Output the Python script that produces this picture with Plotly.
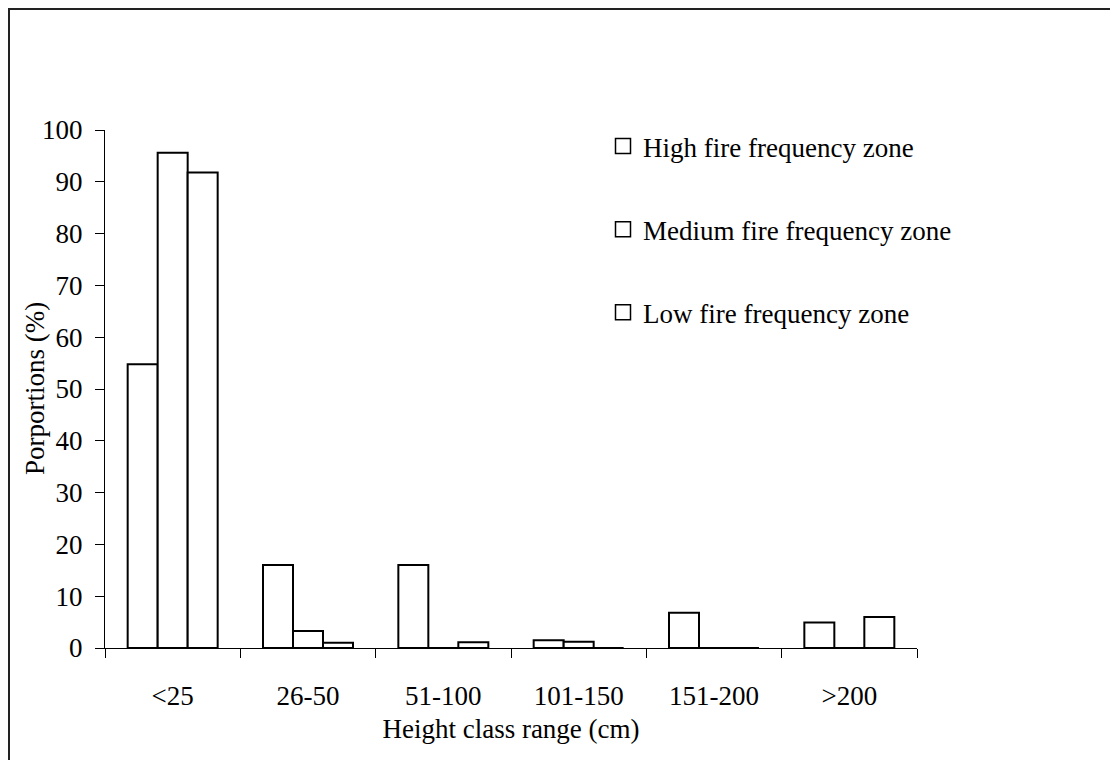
import plotly.graph_objects as go

categories = ["<25", "26-50", "51-100", "101-150", "151-200", ">200"]
high_fire = [54.8, 16.0, 16.0, 1.5, 6.8, 4.9]
medium_fire = [95.6, 3.3, 0.0, 1.2, 0.0, 0.0]
low_fire = [91.8, 1.0, 1.1, 0.0, 0.0, 6.0]
series_names = ["High fire frequency zone", "Medium fire frequency zone", "Low fire frequency zone"]
y_ticks = [0, 10, 20, 30, 40, 50, 60, 70, 80, 90, 100]
x_title = "Height class range (cm)"
y_title = "Porportions (%)"

FONT = "Liberation Serif, Times New Roman, serif"
FS = 27

fig = go.Figure()
for name, vals in zip(series_names, [high_fire, medium_fire, low_fire]):
    fig.add_trace(go.Bar(
        x=categories, y=vals, name=name, legendgroup=name, showlegend=False,
        marker=dict(color="white", line=dict(color="black", width=2)),
    ))
# legend entries with a larger open-square swatch
for name in series_names:
    fig.add_trace(go.Scatter(
        x=[None], y=[None], mode="markers", name=name, legendgroup=name,
        marker=dict(symbol="square", size=15, color="white",
                    line=dict(color="black", width=1.5)),
    ))

# page body has an 8px margin, so figure coords = screen coords - 8
W, H = 1110, 752
L, R, T, B = 97, 201, 122, 112
pw, ph = W - L - R, H - T - B

def sx(px):  # screen x -> paper
    return (px - 8 - L) / pw

def sy(py):  # screen y -> paper
    return (H - B - (py - 8)) / ph

fig.update_layout(
    width=W, height=H,
    margin=dict(l=L, r=R, t=T, b=B, autoexpand=False),
    paper_bgcolor="white", plot_bgcolor="white",
    font=dict(family=FONT, size=FS, color="black"),
    barmode="group", bargap=0.335, bargroupgap=0,
    showlegend=True,
    legend=dict(
        x=sx(603), y=sy(122), xanchor="left", yanchor="top",
        traceorder="grouped", tracegroupgap=45,
        font=dict(family=FONT, size=FS, color="black"),
        bgcolor="rgba(0,0,0,0)", borderwidth=0,
    ),
    xaxis=dict(
        type="category", showline=True, linecolor="black", linewidth=1,
        ticks="outside", tickson="boundaries", ticklen=9, tickcolor="black", tickwidth=1,
        showgrid=False, zeroline=False,
        ticklabelstandoff=24,
        title=dict(text=x_title, standoff=8,
                   font=dict(family=FONT, size=FS, color="black")),
        tickfont=dict(family=FONT, size=FS, color="black"),
    ),
    yaxis=dict(
        range=[0, 100], tickvals=y_ticks, showline=True, linecolor="black", linewidth=1,
        ticks="outside", ticklen=9, tickcolor="black", tickwidth=1,
        showgrid=False, zeroline=False,
        ticklabelstandoff=7,
        tickfont=dict(family=FONT, size=FS, color="black"),
    ),
    annotations=[dict(
        text=y_title, textangle=-90, xref="paper", yref="paper",
        x=sx(35), y=0.5, xanchor="center", yanchor="middle", showarrow=False,
        font=dict(family=FONT, size=FS, color="black"),
    )],
    shapes=[dict(
        type="rect", xref="paper", yref="paper",
        x0=sx(9), x1=sx(1116),
        y0=sy(775), y1=sy(9),
        line=dict(color="#222222", width=2), fillcolor="rgba(0,0,0,0)", layer="below",
    )],
)

fig.write_html("out.html")
